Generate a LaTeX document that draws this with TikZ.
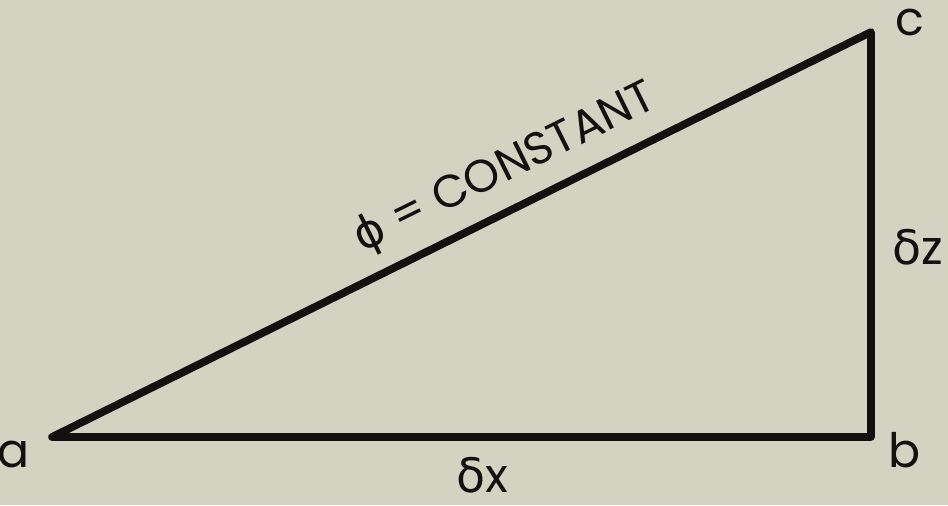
\documentclass[tikz,border=0pt]{standalone}
\usepackage{fontspec}
\setmainfont{Poppins}
\newfontfamily\greekfont{DejaVu Sans}
\usetikzlibrary{positioning,calc}
\definecolor{paper}{HTML}{D2D3C1}
\definecolor{ink}{HTML}{151010}
\tikzset{
  side/.style ={draw=ink, line width=4.4pt, line join=round, line cap=round},
  vlab/.style ={font=\fontsize{27}{30}\selectfont, text=ink, inner sep=0pt},
  dlab/.style ={font=\fontsize{27}{30}\selectfont, text=ink, inner sep=0pt},
}
\newcommand{\gk}[1]{{\greekfont #1}}

\begin{document}
\begin{tikzpicture}[x=0.02cm, y=-0.02cm]
  \fill[paper] (0,0) rectangle (948,505);
  \useasboundingbox (0,0) rectangle (948,505);
  \coordinate (a) at (52,437);
  \coordinate (b) at (871,437);
  \coordinate (c) at (871,32);
  \draw[side] (a) -- (b) -- (c) -- cycle;
  \path (a) -- (c) node[dlab, sloped, pos=0.575, anchor=south, inner sep=10pt,
        font=\fontsize{26}{30}\selectfont] (phi) {\gk{ϕ} = CONSTANT};
  \node[vlab, anchor=base east] (la) at ($(a)+(-22,30)$) {a};
  \node[vlab, anchor=base west] (lb) at ($(b)+(17,30)$) {b};
  \node[vlab, anchor=base west] (lc) at ($(c)+(24,3)$) {c};
  \node[dlab, anchor=base west] (dz) at ($(b)!0.425!(c)+(21,0)$) {\gk{δ}z};
  \node[dlab, anchor=base] (dx) at ($(a)!0.525!(b)+(0,55)$) {\gk{δ}x};
\end{tikzpicture}
\end{document}
